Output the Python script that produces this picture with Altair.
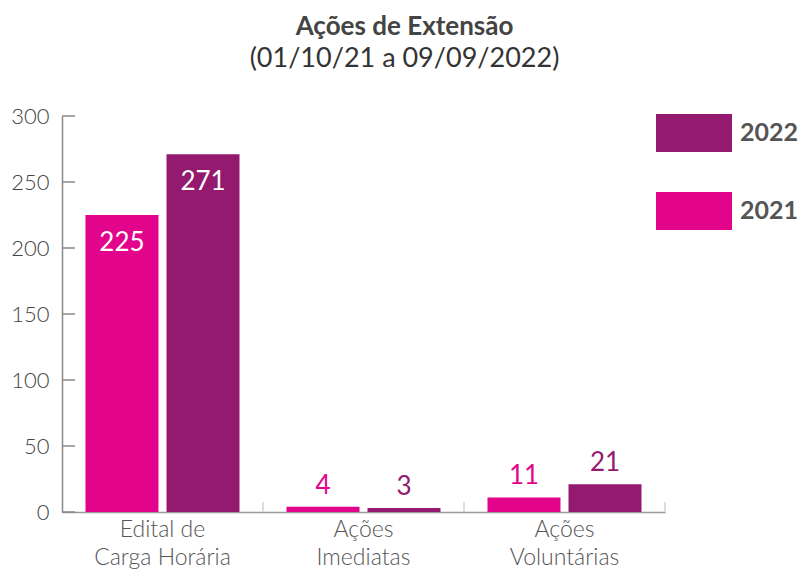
import altair as alt
import pandas as pd

categories = ["Edital de|Carga Horária", "Ações|Imediatas", "Ações|Voluntárias"]
values_2021 = [225, 4, 11]
values_2022 = [271, 3, 21]
y_ticks = [0, 50, 100, 150, 200, 250, 300]

rows = []
for c, v in zip(categories, values_2021):
    rows.append({"cat": c, "ano": "2021", "valor": v})
for c, v in zip(categories, values_2022):
    rows.append({"cat": c, "ano": "2022", "valor": v})
df = pd.DataFrame(rows)

PINK = "#E2058C"
PURPLE = "#931A6E"
FONT = "Lato"

xenc = alt.X("cat:N", sort=categories, title=None,
             scale=alt.Scale(paddingInner=0, paddingOuter=0),
             axis=alt.Axis(labelExpr="split(datum.label, '|')", ticks=False,
                           labelAngle=0, labelFontSize=23, labelColor="#555",
                           labelFont=FONT, labelFontWeight=300, labelPadding=6,
                           labelLineHeight=28, domainColor="#999", domainWidth=1.5,
                           labelBaseline="top"))
xoff = alt.XOffset("ano:N", sort=["2021", "2022"],
                   scale=alt.Scale(paddingInner=0.099, paddingOuter=0.29))
color = alt.Color("ano:N", sort=["2022", "2021"],
                  scale=alt.Scale(domain=["2022", "2021"], range=[PURPLE, PINK]),
                  legend=alt.Legend(title=None, orient="none", legendX=594, legendY=-21,
                                    symbolType="M-1,-0.5H1V0.5H-1Z", symbolSize=5776,
                                    symbolStrokeWidth=0, symbolOpacity=1,
                                    labelFontSize=25, labelFont=FONT, labelFontWeight="bold",
                                    labelColor="#555", rowPadding=21, labelOffset=8,
                                    padding=0, labelLimit=200))

yenc = alt.Y("valor:Q", title=None,
             scale=alt.Scale(domain=[0, 300]),
             axis=alt.Axis(values=y_ticks, grid=False, ticks=False,
                           domainColor="#888", domainWidth=1.5,
                           labelFontSize=22, labelFont=FONT, labelFontWeight=300,
                           labelColor="#444", labelPadding=13))

base = alt.Chart(df)

bars = base.mark_bar(opacity=1).encode(x=xenc, xOffset=xoff, y=yenc, color=color)

inside = base.transform_filter("datum.valor > 100").mark_text(
    font=FONT, fontSize=26, color="white", baseline="middle", dy=28
).encode(x=alt.X("cat:N", sort=categories), xOffset=xoff, y="valor:Q", text="valor:Q")

outside = base.transform_filter("datum.valor <= 100").mark_text(
    font=FONT, fontSize=26, baseline="middle", dy=-21
).encode(x=alt.X("cat:N", sort=categories), xOffset=xoff, y="valor:Q", text="valor:Q",
         color=alt.Color("ano:N", scale=alt.Scale(domain=["2022", "2021"], range=["#862068", PINK]), legend=None))

seps = alt.Chart(pd.DataFrame({"cat": categories})).mark_rule(
    color="#ccd5cc", strokeWidth=1.5
).encode(x=alt.X("cat:N", sort=categories, bandPosition=1),
         y=alt.value(386), y2=alt.value(396))

yticks = alt.Chart(pd.DataFrame({"t": y_ticks})).mark_rule(
    color="#888", strokeWidth=1.5
).encode(y=alt.Y("t:Q"), x=alt.value(0), x2=alt.value(13))

chart = alt.layer(bars, inside, outside, seps, yticks).properties(
    width=603, height=396,
    autosize=alt.AutoSizeParams(type="none"),
    padding={"left": 54, "top": 108, "right": 136, "bottom": 60},
    title=alt.TitleParams(text="Ações de Extensão",
                          subtitle="(01/10/21 a 09/09/2022)",
                          font=FONT, fontSize=26, fontWeight="bold", color="#444",
                          subtitleFont=FONT, subtitleFontSize=27, subtitleColor="#333",
                          subtitlePadding=6, anchor="middle", dx=41, offset=23),
).configure_view(stroke=None)

chart.save("out.html", embed_options={"renderer": "svg", "actions": False})
